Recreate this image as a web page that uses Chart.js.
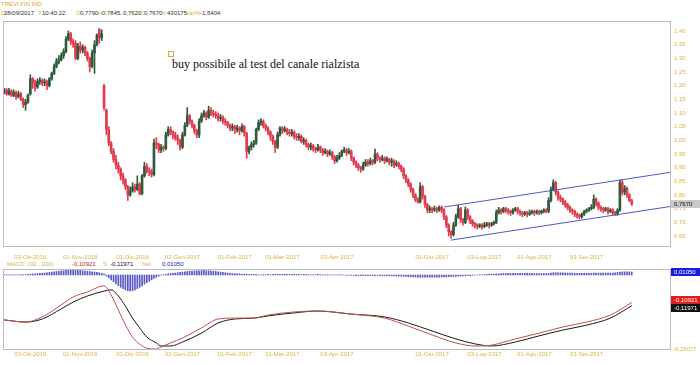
<!DOCTYPE html>
<html><head><meta charset="utf-8">
<script src="https://cdn.jsdelivr.net/npm/chart.js@4/dist/chart.umd.min.js"></script>
<style>
body{margin:0;width:700px;height:365px;background:#fff;position:relative;overflow:hidden;font-family:"Liberation Sans",Arial,sans-serif;}
canvas{position:absolute;left:0;}
#c1{top:0;} #c2{top:262px;}
.t{position:absolute;font-size:6px;line-height:7px;white-space:nowrap;color:#333;}
.k{color:#d8b440;}
#ann{position:absolute;left:172px;top:57px;font-family:"Liberation Serif","Times New Roman",serif;font-size:12px;color:#111;white-space:nowrap;}
#sq{position:absolute;left:168px;top:51px;width:4px;height:4px;border:1px solid #e0a040;}
</style></head><body>
<div class="t" style="left:1px;top:1px;color:#e6a030;">TREVI FIN IND</div>
<div class="t k" style="left:1px;top:10px;">D</div><div class="t" style="left:4px;top:10px;">28/09/2017</div>
<div class="t k" style="left:38px;top:10px;">T</div><div class="t" style="left:42px;top:10px;">10:40:22</div>
<div class="t k" style="left:76px;top:10px;">O</div><div class="t" style="left:80px;top:10px;">0,7790</div>
<div class="t k" style="left:98px;top:10px;">H</div><div class="t" style="left:102px;top:10px;">0,7845</div>
<div class="t k" style="left:119px;top:10px;">L</div><div class="t" style="left:123px;top:10px;">0,7620</div>
<div class="t k" style="left:140px;top:10px;">C</div><div class="t" style="left:144px;top:10px;">0,7670</div>
<div class="t k" style="left:162px;top:10px;">V</div><div class="t" style="left:167px;top:10px;">430175</div>
<div class="t k" style="left:186px;top:10px;">Var%</div><div class="t" style="left:200px;top:10px;">-1,5404</div>
<div id="sq"></div>
<div id="ann">buy possibile al test del canale rialzista</div>
<div class="t k" style="left:7px;top:261px;">MACD</div>
<div class="t k" style="left:28px;top:261px;">(32 , 200)</div>
<div class="t" style="left:72px;top:261px;color:#d02020;">-0,10921</div>
<div class="t k" style="left:103px;top:261px;">S</div>
<div class="t" style="left:110px;top:261px;color:#111;">-0,11971</div>
<div class="t k" style="left:142px;top:261px;">Nst</div>
<div class="t" style="left:162px;top:261px;color:#1a1ab0;">0,01050</div>
<canvas id="c1" width="700" height="262"></canvas>
<canvas id="c2" width="700" height="103"></canvas>
<script>
// ---- data ----
const dateIdx = [11,32,54,75,97,117,140,180,202,223,245];
const dateLbl = ['03-Ott-2016','01-Nov-2016','01-Dic-2016','02-Gen-2017','01-Feb-2017','01-Mar-2017','03-Apr-2017','01-Giu-2017','03-Lug-2017','01-Ago-2017','01-Set-2017'];
const priceTicks = [0.65,0.70,0.75,0.80,0.85,0.90,0.95,1.00,1.05,1.10,1.15,1.20,1.25,1.30,1.35,1.40];
const open = [
1.175,1.185,1.17,1.18,1.165,1.175,1.16,1.17,1.15,1.13,
1.14,1.17,1.225,1.21,1.195,1.215,1.22,1.21,1.215,1.20,
1.225,1.245,1.27,1.29,1.295,1.31,1.325,1.37,1.39,1.36,
1.355,1.30,1.345,1.33,1.34,1.32,1.30,1.27,1.32,1.35,
1.405,1.375,1.20,1.11,1.04,0.99,0.96,0.93,0.91,0.895,
0.87,0.855,0.83,0.80,0.815,0.83,0.82,0.84,0.805,0.87,
0.905,0.89,0.885,0.875,0.99,0.985,0.965,0.975,0.97,1.02,
1.04,1.03,1.02,1.01,1.00,0.975,1.02,1.055,1.09,1.07,
1.055,1.035,1.02,1.07,1.09,1.10,1.085,1.11,1.10,1.095,
1.09,1.08,1.085,1.07,1.065,1.055,1.045,1.05,1.04,1.045,
1.035,1.05,1.025,0.96,0.975,0.985,0.99,1.04,1.065,1.07,
1.055,1.045,1.03,1.015,0.995,0.975,1.02,1.045,1.035,1.04,
1.03,1.025,1.03,1.015,1.01,1.015,0.995,1.00,0.985,0.975,
0.98,0.97,0.965,0.975,0.965,0.955,0.96,0.95,0.955,0.94,
0.925,0.935,0.945,0.96,0.965,0.955,0.96,0.935,0.92,0.91,
0.90,0.895,0.91,0.92,0.915,0.925,0.92,0.95,0.935,0.93,
0.935,0.925,0.93,0.92,0.925,0.91,0.915,0.905,0.895,0.87,
0.855,0.84,0.82,0.80,0.785,0.775,0.83,0.795,0.765,0.745,
0.75,0.745,0.75,0.745,0.755,0.745,0.72,0.69,0.665,0.655,
0.69,0.72,0.75,0.71,0.70,0.745,0.72,0.705,0.695,0.69,
0.685,0.69,0.685,0.69,0.695,0.69,0.695,0.70,0.735,0.745,
0.74,0.75,0.745,0.74,0.735,0.745,0.75,0.74,0.735,0.73,
0.735,0.73,0.735,0.74,0.735,0.74,0.735,0.74,0.745,0.74,
0.78,0.82,0.845,0.81,0.79,0.785,0.775,0.765,0.755,0.745,
0.74,0.73,0.725,0.72,0.73,0.74,0.745,0.75,0.755,0.785,
0.77,0.755,0.75,0.745,0.75,0.74,0.745,0.735,0.73,0.745,
0.845,0.81,0.825,0.80,0.779];
const close = [
1.185,1.17,1.18,1.165,1.175,1.16,1.17,1.15,1.13,1.14,
1.165,1.225,1.21,1.195,1.215,1.22,1.21,1.215,1.20,1.225,
1.245,1.27,1.29,1.295,1.31,1.325,1.37,1.39,1.36,1.355,
1.30,1.345,1.33,1.34,1.32,1.30,1.27,1.32,1.35,1.385,
1.375,1.39,1.12,1.04,0.99,0.96,0.93,0.91,0.895,0.87,
0.855,0.83,0.80,0.815,0.83,0.82,0.84,0.805,0.87,0.905,
0.89,0.885,0.875,0.99,0.985,0.965,0.975,0.97,1.02,1.04,
1.03,1.02,1.01,1.00,0.975,1.02,1.055,1.09,1.07,1.055,
1.035,1.02,1.07,1.09,1.10,1.085,1.11,1.10,1.095,1.09,
1.08,1.085,1.07,1.065,1.055,1.045,1.05,1.04,1.045,1.035,
1.05,1.025,0.96,0.975,0.985,0.99,1.04,1.065,1.07,1.055,
1.045,1.03,1.015,0.995,0.975,1.02,1.045,1.035,1.04,1.03,
1.025,1.03,1.015,1.01,1.015,0.995,1.00,0.985,0.975,0.98,
0.97,0.965,0.975,0.965,0.955,0.96,0.95,0.955,0.94,0.925,
0.935,0.945,0.96,0.965,0.955,0.96,0.935,0.92,0.91,0.90,
0.895,0.91,0.92,0.915,0.925,0.92,0.95,0.935,0.93,0.935,
0.925,0.93,0.92,0.925,0.91,0.915,0.905,0.895,0.87,0.855,
0.84,0.82,0.80,0.785,0.775,0.83,0.795,0.765,0.745,0.75,
0.745,0.75,0.745,0.755,0.745,0.72,0.69,0.665,0.655,0.69,
0.72,0.75,0.71,0.70,0.745,0.72,0.705,0.695,0.69,0.685,
0.69,0.685,0.69,0.695,0.69,0.695,0.70,0.735,0.745,0.74,
0.75,0.745,0.74,0.735,0.745,0.75,0.74,0.735,0.73,0.735,
0.73,0.735,0.74,0.735,0.74,0.735,0.74,0.745,0.74,0.78,
0.82,0.845,0.81,0.79,0.785,0.775,0.765,0.755,0.745,0.74,
0.73,0.725,0.72,0.73,0.74,0.745,0.75,0.755,0.785,0.77,
0.755,0.75,0.745,0.75,0.74,0.745,0.735,0.73,0.745,0.845,
0.81,0.825,0.80,0.78,0.767];
const high = [
1.19,1.19,1.19,1.185,1.185,1.18,1.18,1.175,1.155,1.15,
1.17,1.24,1.23,1.22,1.225,1.23,1.225,1.225,1.22,1.23,
1.25,1.28,1.30,1.31,1.32,1.335,1.38,1.40,1.395,1.37,
1.365,1.355,1.36,1.35,1.345,1.325,1.305,1.33,1.365,1.39,
1.41,1.405,1.205,1.115,1.05,0.995,0.97,0.945,0.92,0.90,
0.88,0.86,0.835,0.83,0.845,0.84,0.87,0.845,0.875,0.92,
0.915,0.90,0.895,1.005,1.01,0.99,0.985,0.98,1.03,1.05,
1.05,1.035,1.03,1.02,1.005,1.03,1.065,1.12,1.095,1.075,
1.06,1.04,1.08,1.10,1.11,1.105,1.125,1.12,1.11,1.105,
1.10,1.095,1.09,1.08,1.07,1.06,1.06,1.055,1.055,1.05,
1.06,1.055,1.03,0.98,0.995,1.00,1.045,1.075,1.08,1.075,
1.06,1.05,1.035,1.02,1.00,1.03,1.05,1.05,1.05,1.045,
1.04,1.04,1.035,1.025,1.025,1.02,1.01,1.005,0.99,0.99,
0.985,0.975,0.985,0.98,0.97,0.97,0.965,0.965,0.96,0.945,
0.945,0.955,0.965,0.975,0.97,0.97,0.965,0.94,0.925,0.915,
0.905,0.92,0.93,0.93,0.935,0.93,0.968,0.955,0.94,0.945,
0.94,0.94,0.935,0.935,0.93,0.925,0.92,0.91,0.90,0.875,
0.86,0.845,0.825,0.805,0.79,0.845,0.835,0.80,0.77,0.76,
0.755,0.76,0.755,0.76,0.76,0.75,0.725,0.695,0.67,0.70,
0.73,0.763,0.755,0.715,0.756,0.75,0.725,0.71,0.70,0.695,
0.695,0.695,0.70,0.70,0.70,0.70,0.705,0.745,0.755,0.75,
0.755,0.755,0.75,0.745,0.75,0.755,0.755,0.745,0.74,0.74,
0.74,0.745,0.745,0.745,0.745,0.745,0.745,0.75,0.75,0.79,
0.83,0.856,0.85,0.815,0.80,0.79,0.78,0.77,0.76,0.75,
0.745,0.735,0.73,0.735,0.745,0.75,0.755,0.765,0.80,0.79,
0.775,0.76,0.755,0.755,0.755,0.75,0.75,0.74,0.75,0.855,
0.855,0.835,0.83,0.805,0.7845];
const low = [
1.17,1.165,1.165,1.16,1.16,1.15,1.155,1.145,1.12,1.11,
1.135,1.165,1.19,1.18,1.19,1.205,1.20,1.20,1.185,1.195,
1.22,1.24,1.265,1.28,1.29,1.30,1.32,1.365,1.35,1.34,
1.295,1.295,1.32,1.32,1.31,1.29,1.25,1.265,1.245,1.345,
1.355,1.365,1.11,1.02,0.98,0.95,0.92,0.895,0.88,0.855,
0.84,0.82,0.78,0.795,0.81,0.81,0.815,0.80,0.80,0.865,
0.88,0.87,0.865,0.87,0.97,0.955,0.955,0.96,0.965,1.015,
1.02,1.005,1.00,0.985,0.965,0.97,1.015,1.05,1.06,1.045,
1.025,1.01,1.01,1.065,1.085,1.075,1.08,1.09,1.085,1.08,
1.07,1.07,1.06,1.055,1.045,1.035,1.035,1.025,1.03,1.02,
1.03,1.015,0.935,0.95,0.965,0.975,0.985,1.035,1.055,1.045,
1.035,1.02,1.00,0.985,0.955,0.97,1.015,1.025,1.03,1.02,
1.015,1.015,1.005,1.00,1.00,0.99,0.985,0.975,0.965,0.965,
0.96,0.955,0.96,0.955,0.945,0.95,0.94,0.945,0.93,0.915,
0.92,0.93,0.94,0.955,0.945,0.95,0.925,0.91,0.90,0.89,
0.883,0.89,0.905,0.905,0.91,0.91,0.915,0.925,0.92,0.925,
0.915,0.92,0.91,0.905,0.90,0.905,0.895,0.885,0.86,0.845,
0.83,0.81,0.79,0.775,0.77,0.77,0.785,0.755,0.735,0.735,
0.735,0.74,0.735,0.74,0.735,0.71,0.68,0.65,0.642,0.65,
0.685,0.715,0.70,0.69,0.695,0.71,0.695,0.685,0.68,0.675,
0.68,0.675,0.68,0.685,0.68,0.685,0.69,0.695,0.73,0.73,
0.735,0.735,0.73,0.725,0.73,0.74,0.73,0.725,0.72,0.725,
0.72,0.725,0.73,0.725,0.73,0.728,0.73,0.735,0.735,0.735,
0.775,0.815,0.80,0.78,0.775,0.765,0.755,0.745,0.735,0.73,
0.72,0.715,0.712,0.715,0.725,0.735,0.74,0.745,0.75,0.76,
0.745,0.74,0.735,0.74,0.73,0.735,0.728,0.725,0.725,0.74,
0.80,0.80,0.79,0.775,0.762];
// channel lines (index, price)
const channelUpper = [[185,0.756],[281,0.884]];
const channelLower = [[188,0.635],[281,0.759]];
// MACD / signal read at these candle indices
const macdIdx = [0,9,16,24,29,35,42,45,48,51,54,57,60,64,66,70,75,83,90,97,105,111,122,132,146,160,170,180,190,198,205,215,225,235,245,255,264];
const macdVal = [-0.166,-0.173,-0.156,-0.117,-0.091,-0.075,-0.055,-0.085,-0.133,-0.182,-0.222,-0.245,-0.258,-0.26077,-0.254,-0.241,-0.225,-0.192,-0.163,-0.160,-0.160,-0.150,-0.140,-0.137,-0.147,-0.160,-0.186,-0.215,-0.241,-0.251,-0.248,-0.228,-0.209,-0.189,-0.173,-0.150,-0.10921];
const signalVal = [-0.166,-0.173,-0.163,-0.130,-0.108,-0.088,-0.072,-0.068,-0.088,-0.121,-0.160,-0.192,-0.222,-0.241,-0.251,-0.251,-0.238,-0.209,-0.176,-0.163,-0.160,-0.153,-0.143,-0.137,-0.147,-0.156,-0.176,-0.202,-0.228,-0.244,-0.251,-0.238,-0.218,-0.199,-0.183,-0.160,-0.11971];
const hist = [
0.001,0.001,0.001,0.001,0.001,0.001,0.001,0.001,0.001,0.001,0.002,
0.003,0.004,0.004,0.005,0.006,0.006,0.007,0.008,0.009,0.010,
0.011,0.012,0.013,0.014,0.015,0.016,0.017,0.018,0.018,0.018,0.017,0.016,
0.015,0.014,0.013,0.012,0.011,0.010,0.009,0.008,0.006,0.004,
-0.004,-0.010,-0.017,-0.024,-0.031,-0.037,-0.043,-0.048,-0.052,-0.055,-0.056,-0.055,-0.052,-0.048,-0.043,-0.038,-0.032,-0.027,-0.022,-0.017,-0.012,-0.008,-0.004,-0.001,
0.001,0.002,0.004,0.005,0.006,0.007,0.008,0.009,0.010,0.011,0.012,0.013,0.014,0.014,0.015,0.015,0.016,0.016,0.015,0.015,0.014,0.013,0.012,0.011,0.010,0.009,0.008,0.007,0.006,
0.005,0.005,0.004,0.004,0.003,0.003,0.003,0.002,0.002,0.002,0.002,0.001,0.001,0.001,0.001,
0.002,0.001,0.002,0.002,0.003,0.002,0.002,0.003,0.002,0.002,0.002,0.003,0.002,0.002,0.001,0.002,0.002,0.001,0.001,0.001,
0.001,0.002,0.001,0.001,0.001,0.001,0.001,0.000,0.001,0.001,0.001,0.001,0.000,-0.001,-0.001,-0.001,-0.001,-0.002,-0.002,-0.002,
-0.002,-0.002,-0.002,-0.002,-0.002,-0.002,-0.001,-0.002,-0.002,-0.002,-0.003,-0.003,-0.003,-0.003,-0.004,-0.004,-0.004,-0.005,-0.005,-0.006,
-0.006,-0.007,-0.007,-0.008,-0.008,-0.008,-0.008,-0.008,-0.008,-0.008,-0.008,-0.008,-0.008,-0.007,-0.007,-0.007,-0.006,-0.006,-0.005,-0.005,
-0.004,-0.004,-0.003,-0.003,-0.002,-0.002,-0.001,-0.001,0.000,
0.001,0.001,0.002,0.002,0.003,0.003,0.003,0.004,0.004,0.005,0.005,0.005,0.006,0.006,0.006,0.006,0.006,0.006,0.006,0.006,
0.006,0.006,0.006,0.005,0.005,0.005,0.005,0.005,0.005,0.006,0.007,0.008,0.008,0.008,0.008,0.008,0.007,0.007,0.007,0.007,
0.006,0.006,0.006,0.006,0.006,0.006,0.006,0.006,0.007,0.007,0.007,0.007,0.007,0.007,0.007,0.007,0.007,0.008,0.009,0.010,
0.011,0.011,0.011,0.011,0.0105];
const macdMin = -0.26077;

// ---- style ----
const GOLD = '#d8b440', UP = '#2f5a3c', DOWN = '#e23a4e', FRAME = '#bcbcbc';
const FONT = {family:'Liberation Sans', size:6};
const XMIN = -0.5, XMAX = 280.5;
const fmt = (v,d) => v.toFixed(d).replace('.',',');

const candleCol = close.map((c,i) => c >= open[i] ? UP : DOWN);
const wickData = close.map((c,i) => ({x:i, y:[low[i], high[i]]}));
const bodyData = close.map((c,i) => ({x:i, y:[Math.min(open[i],c), Math.max(open[i],c)]}));

const frame = {id:'frame', afterDraw(ch){const a=ch.chartArea,c=ch.ctx;c.save();c.strokeStyle=FRAME;c.lineWidth=1;c.strokeRect(Math.round(a.left)+0.5,Math.round(a.top)+0.5,Math.round(a.right-a.left)-1,Math.round(a.bottom-a.top));c.restore();}};

function xAxis(pad){
  return {type:'linear',min:XMIN,max:XMAX,offset:false,grid:{display:false,drawTicks:false,offset:false},border:{display:false},
    afterBuildTicks:s=>{s.ticks=dateIdx.map(v=>({value:v}));},
    ticks:{autoSkip:false,maxRotation:0,minRotation:0,padding:pad,color:GOLD,font:FONT,
      callback:v=>dateLbl[dateIdx.indexOf(v)]},
    afterFit:s=>{s.height=16;}};
}

const priceLabel = {id:'priceLabel', afterDraw(ch){
  const c=ch.ctx, y=ch.scales.y.getPixelForValue(close[close.length-1]);
  c.save(); c.fillStyle='#c9c9c9'; c.fillRect(671,Math.round(y)-4,29,8);
  c.fillStyle='#111'; c.font='6px "Liberation Sans"'; c.textBaseline='middle';
  c.fillText(fmt(close[close.length-1],4),674,Math.round(y)); c.restore();}};

new Chart(document.getElementById('c1'), {
  type:'bar',
  data:{datasets:[
    {data:bodyData, backgroundColor:candleCol, barThickness:2, grouped:false, minBarLength:1, order:1},
    {data:wickData, backgroundColor:candleCol, barThickness:1, grouped:false, order:2},
    {type:'line', data:channelUpper.map(p=>({x:p[0],y:p[1]})), borderColor:'#4a5cc8', borderWidth:1, pointRadius:0, order:0},
    {type:'line', data:channelLower.map(p=>({x:p[0],y:p[1]})), borderColor:'#4a5cc8', borderWidth:1, pointRadius:0, order:0}
  ]},
  options:{responsive:false, animation:false, events:[],
    layout:{padding:{left:3,top:21,right:0,bottom:0}},
    plugins:{legend:{display:false}, tooltip:{enabled:false}},
    scales:{
      x:xAxis(8),
      y:{position:'right',min:0.6134,max:1.4366,grid:{display:false,drawTicks:false},border:{display:false},
        afterBuildTicks:s=>{s.ticks=priceTicks.map(v=>({value:v}));},
        ticks:{padding:3,color:GOLD,font:FONT,callback:v=>fmt(v,2)},
        afterFit:s=>{s.width=29;}}
    }},
  plugins:[frame, priceLabel]
});

const macdLabels = {id:'macdLabels', afterDraw(ch){
  const c=ch.ctx, n=hist.length-1;
  const yh=ch.scales.yh.getPixelForValue(hist[n]);
  let ym=ch.scales.y.getPixelForValue(macdVal[macdVal.length-1]);
  let ys=ch.scales.y.getPixelForValue(signalVal[signalVal.length-1]);
  if (ys-ym < 8){const m=(ym+ys)/2; ym=m-4; ys=m+4;}
  c.save(); c.font='6px "Liberation Sans"'; c.textBaseline='middle';
  const box=(y,bg,txt)=>{c.fillStyle=bg;c.fillRect(671,Math.round(y)-4,29,8);c.fillStyle='#fff';c.fillText(txt,674,Math.round(y));};
  box(yh,'#1c1ce0',fmt(hist[n],5));
  box(ym,'#e01c1c',fmt(macdVal[macdVal.length-1],5));
  box(ys,'#111111',fmt(signalVal[signalVal.length-1],5));
  c.fillStyle=GOLD; c.fillText(fmt(macdMin,5),673,ch.scales.y.getPixelForValue(macdMin));
  c.restore();}};

new Chart(document.getElementById('c2'), {
  type:'bar',
  data:{datasets:[
    {data:hist.map((v,i)=>({x:i,y:v})), backgroundColor:'#5a5ac4', barThickness:1, yAxisID:'yh', order:3},
    {type:'line', data:macdIdx.map((x,i)=>({x,y:signalVal[i]})), borderColor:'#1a1a1a', borderWidth:1, pointRadius:0, cubicInterpolationMode:'monotone', yAxisID:'y', order:1},
    {type:'line', data:macdIdx.map((x,i)=>({x,y:macdVal[i]})), borderColor:'#c0504a', borderWidth:1, pointRadius:0, cubicInterpolationMode:'monotone', yAxisID:'y', order:0}
  ]},
  options:{responsive:false, animation:false, events:[],
    layout:{padding:{left:3,top:7,right:0,bottom:0}},
    plugins:{legend:{display:false}, tooltip:{enabled:false}},
    scales:{
      x:xAxis(2),
      y:{position:'right',min:macdMin,max:0,grid:{display:false,drawTicks:false},border:{display:false},
        ticks:{display:false}, afterFit:s=>{s.width=29;}},
      yh:{position:'right',display:false,min:-0.259,max:0.021}
    }},
  plugins:[frame, macdLabels]
});
</script>
</body></html>
